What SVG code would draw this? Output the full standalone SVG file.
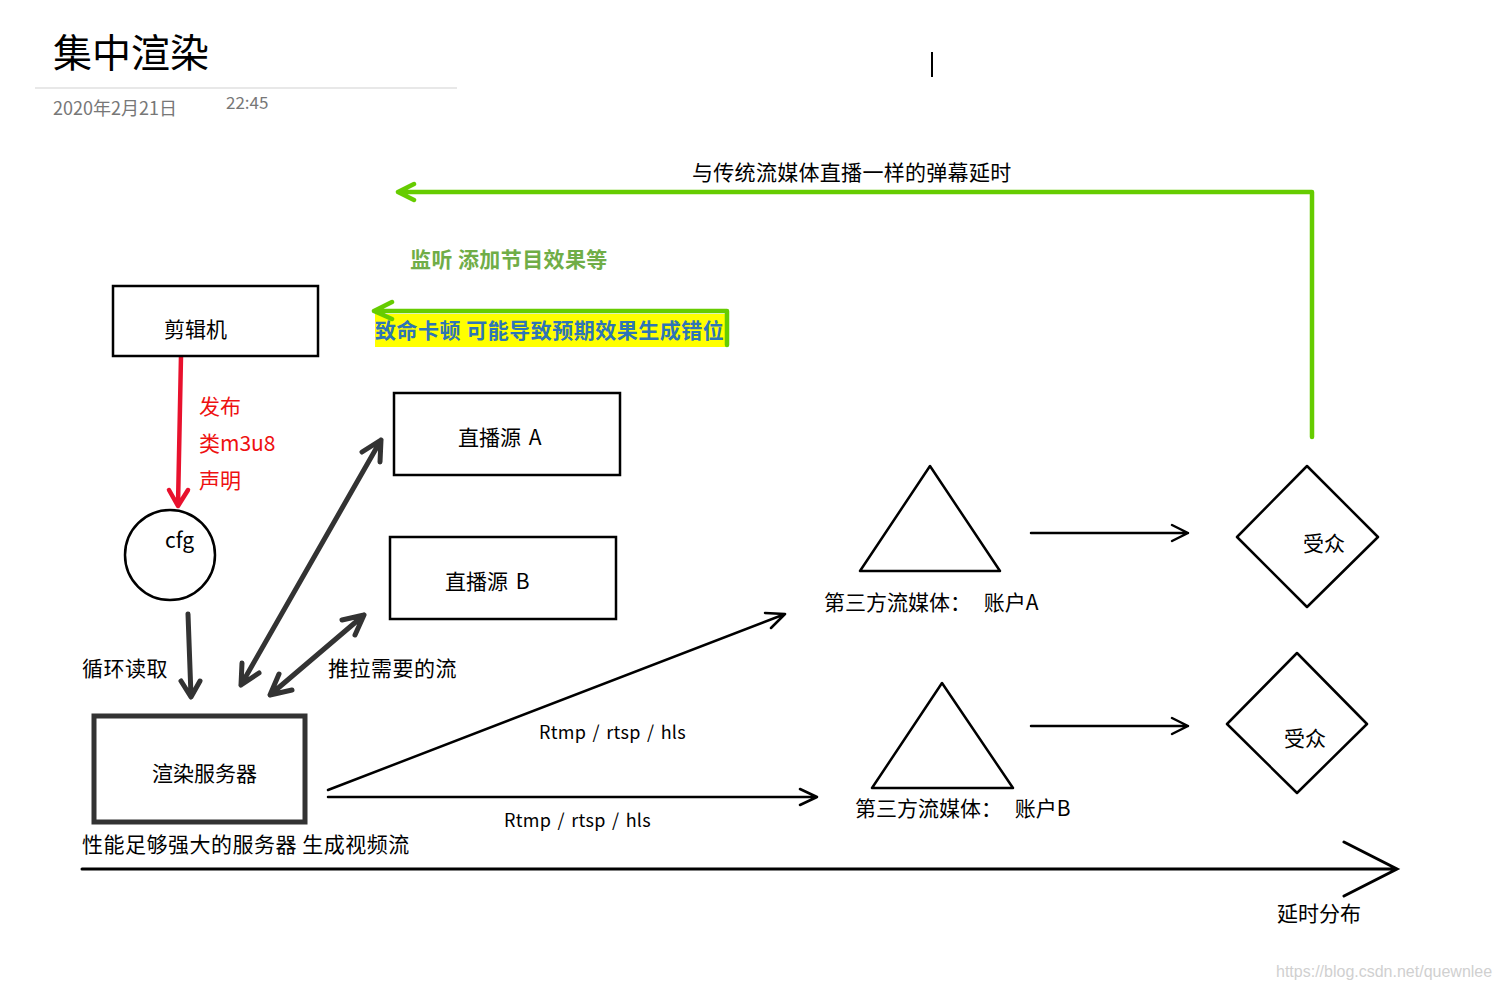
<svg xmlns="http://www.w3.org/2000/svg" width="1499" height="991" viewBox="0 0 1499 991">
<style>
  text { font-family: "Noto Sans CJK SC", "Noto Sans", sans-serif; font-size: 21px; fill: #000; }
  .box { fill: #fff; stroke: #000; stroke-width: 2.5; }
  .thin { fill: none; stroke: #000; stroke-width: 2.5; stroke-linecap: round; stroke-linejoin: round; }
  .dark { fill: none; stroke: #333; stroke-width: 5; stroke-linecap: round; stroke-linejoin: round; }
  .green { fill: none; stroke: #66cc00; stroke-width: 4.5; stroke-linecap: round; stroke-linejoin: round; }
  .red { fill: none; stroke: #e8112d; stroke-width: 4.5; stroke-linecap: round; stroke-linejoin: round; }
  .redt { fill: #ee1111; }
  .lat { font-size: 18px; word-spacing: 2px; letter-spacing: 0.3px; }
</style>
<rect width="1499" height="991" fill="#fff"/>

<g id="header">
  <text x="53" y="67" style="font-size:39px">集中渲染</text>
  <line x1="35" y1="88" x2="457" y2="88" stroke="#e0e0e0" stroke-width="1.5"/>
  <text x="53" y="115" style="font-size:18px;fill:#777">2020年2月21日</text>
  <text x="226" y="109" style="font-size:17px;fill:#777">22:45</text>
  <line x1="932" y1="52" x2="932" y2="77" stroke="#000" stroke-width="2"/>
</g>

<g id="connectors">
  <!-- green feedback arrow -->
  <path class="green" d="M1312,437 L1312,192 L398,192 M414,184 L398,192 L414,200"/>
  <!-- green arrow with highlighted label -->
  <rect x="375" y="314" width="352" height="33" fill="#ffff00"/>
  <path class="green" d="M727,345 L727,311 L374,311 M392,302 L374,311 L392,319"/>
  <!-- red publish arrow -->
  <path class="red" d="M181,356 L178,505 M169,490 L178,506 L188,490"/>
  <!-- read loop -->
  <path class="dark" d="M188,614 L191,696 M181,681 L191,697 L200,681"/>
  <!-- double arrow to source A -->
  <path class="dark" d="M241,685 L381,440 M380,462 L381,440 L362,452 M259,673 L241,685 L242,663"/>
  <!-- double arrow to source B -->
  <path class="dark" d="M270,695 L364,615 M355,635 L364,615 L342,620 M292,690 L270,695 L279,674"/>
  <!-- Rtmp to account A -->
  <path class="thin" d="M328,790 L785,614 M771,628 L785,614 L765,613"/>
  <!-- Rtmp to account B -->
  <path class="thin" d="M328,797 L817,797 M800,789 L817,797 L800,805"/>
  <!-- third party to audience -->
  <path class="thin" d="M1031,533 L1188,533 M1172,525 L1188,533 L1172,541"/>
  <path class="thin" d="M1031,726 L1188,726 M1172,718 L1188,726 L1172,734"/>
  <!-- latency axis -->
  <path fill="none" stroke="#000" stroke-width="3" stroke-linecap="round" d="M82,869 L1397,869 M1344,842 L1397,869 L1344,896"/>
</g>

<g id="labels">
  <text x="692" y="180" style="letter-spacing:0.3px">与传统流媒体直播一样的弹幕延时</text>
  <text x="410" y="267" style="fill:#70ad47;font-weight:bold;letter-spacing:0.4px">监听 添加节目效果等</text>
  <text x="375" y="338" style="fill:#2e75b6;font-weight:bold;letter-spacing:0.5px">致命卡顿 可能导致预期效果生成错位</text>
  <text x="199" y="414" class="redt">发布</text>
  <text x="199" y="451" class="redt">类m3u8</text>
  <text x="199" y="488" class="redt">声明</text>
  <text x="82" y="676" style="letter-spacing:0.5px">循环读取</text>
  <text x="328" y="676" style="letter-spacing:0.5px">推拉需要的流</text>
  <text x="82" y="852" style="letter-spacing:0.5px">性能足够强大的服务器 生成视频流</text>
  <text x="539" y="739" class="lat">Rtmp / rtsp / hls</text>
  <text x="504" y="827" class="lat">Rtmp / rtsp / hls</text>
  <text x="1277" y="921">延时分布</text>
  <text x="1276" y="977" style="font-family:'Liberation Sans',Arial,sans-serif;font-size:16px;fill:#d0d0d0">https://blog.csdn.net/quewnlee</text>
</g>

<g id="editor">
  <rect class="box" x="113" y="286" width="205" height="70"/>
  <text x="164" y="337">剪辑机</text>
</g>

<g id="cfg">
  <circle cx="170" cy="555" r="45" fill="#fff" stroke="#000" stroke-width="2.5"/>
  <text x="165" y="548">cfg</text>
</g>

<g id="sourceA">
  <rect class="box" x="394" y="393" width="226" height="82"/>
  <text x="458" y="445" style="word-spacing:3px">直播源 A</text>
</g>

<g id="sourceB">
  <rect class="box" x="390" y="537" width="226" height="82"/>
  <text x="445" y="589" style="word-spacing:3px">直播源 B</text>
</g>

<g id="renderServer">
  <rect x="94" y="716" width="211" height="106" fill="#fff" stroke="#333" stroke-width="5"/>
  <text x="152" y="781">渲染服务器</text>
</g>

<g id="accountA">
  <polygon class="thin" points="930,466 860,571 1000,571"/>
  <text x="824" y="610" style="word-spacing:8px">第三方流媒体： 账户A</text>
</g>

<g id="accountB">
  <polygon class="thin" points="942,683 872,788 1013,788"/>
  <text x="855" y="816" style="word-spacing:8px">第三方流媒体： 账户B</text>
</g>

<g id="audience1">
  <polygon class="thin" points="1307,466 1378,537 1307,607 1237,537"/>
  <text x="1303" y="551">受众</text>
</g>

<g id="audience2">
  <polygon class="thin" points="1297,653 1367,724 1297,793 1227,724"/>
  <text x="1284" y="746">受众</text>
</g>
</svg>
